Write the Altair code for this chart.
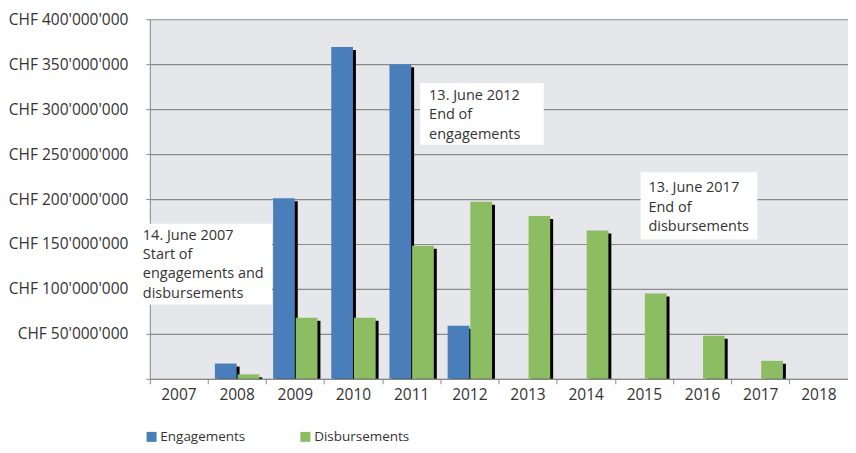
import altair as alt
import pandas as pd

# ---- data ----
years = [str(y) for y in range(2007, 2019)]
engagements = [0, 17e6, 201e6, 369e6, 350e6, 59e6, 0, 0, 0, 0, 0, 0]
disbursements = [0, 5e6, 68e6, 68e6, 148e6, 197e6, 181e6, 165e6, 95e6, 48e6, 20e6, 0]
series = ["Engagements", "Disbursements"]
colors = ["#4a7ebb", "#8cbd63"]
y_ticks = list(range(0, 400_000_001, 50_000_000))

ann_text = [
    "14. June 2007\nStart of\nengagements and\ndisbursements",
    "13. June 2012\nEnd of\nengagements",
    "13. June 2017\nEnd of\ndisbursements",
]
ann_x0 = [2006.30, 2011.145, 2014.935]
ann_x1 = [2008.60, 2013.27, 2016.94]
ann_y0 = [172.5e6, 329e6, 229.8e6]
ann_y1 = [82.8e6, 260.4e6, 155.0e6]
ann_tx = [2006.38, 2011.30, 2015.07]
ann_ty = [159.4e6, 314.9e6, 212.1e6]

FONT = "Open Sans"
TXT = "#333333"
GRID = "#8a8a8a"
Y_MAX = 400_000_000
PLOT_H = 360

rows = []
for yr, e, d in zip(years, engagements, disbursements):
    if e > 0:
        rows.append({"year": yr, "series": series[0], "value": e})
    if d > 0:
        rows.append({"year": yr, "series": series[1], "value": d})
df = pd.DataFrame(rows)

ann = pd.DataFrame({"x0": ann_x0, "x1": ann_x1, "y0": ann_y0, "y1": ann_y1,
                    "tx": ann_tx, "ty": ann_ty, "text": ann_text})

label_expr = ("datum.value == 0 ? '' : 'CHF ' + "
              "replace(format(datum.value, ','), regexp(',', 'g'), \"'\")")

y_axis = alt.Axis(title=None, values=y_ticks, labelExpr=label_expr,
                  grid=True, gridColor=GRID, gridWidth=1.2, domainColor=GRID,
                  tickColor=GRID, tickSize=4, labelPadding=18,
                  labelFont=FONT, labelFontSize=15.5, labelColor=TXT)
y_scale = alt.Scale(domain=[0, Y_MAX], nice=False)

x_enc = alt.X("year:N",
              scale=alt.Scale(domain=years, paddingInner=0, paddingOuter=0),
              axis=alt.Axis(title=None, bandPosition=0, labelAngle=0, tickSize=5,
                            labelPadding=4, domainColor=GRID, tickColor=GRID,
                            labelFont=FONT, labelFontSize=15.5, labelColor=TXT, grid=False))


def xo(align):
    return alt.XOffset("series:N",
                       scale=alt.Scale(domain=series, paddingInner=0.0435,
                                       paddingOuter=0.304, align=align))


shadow = alt.Chart(df).transform_calculate(
    sv=f"datum.value - {Y_MAX} * 3 / {PLOT_H}"
).mark_bar(color="black").encode(
    x=x_enc, xOffset=xo(0.714),
    y=alt.Y("sv:Q", scale=y_scale, axis=y_axis),
)
bars = alt.Chart(df).mark_bar().encode(
    x=x_enc, xOffset=xo(0.5),
    y=alt.Y("value:Q", scale=y_scale, axis=y_axis),
    color=alt.Color("series:N",
                    scale=alt.Scale(domain=series, range=colors),
                    legend=alt.Legend(title=None, orient="none", legendX=-5, legendY=411,
                                      direction="horizontal", symbolType="square",
                                      symbolSize=100, symbolStrokeWidth=0,
                                      labelFont=FONT, labelFontSize=13.5, labelColor=TXT,
                                      labelOffset=2, columnPadding=53))
)
bar_layer = alt.layer(shadow, bars).resolve_scale(xOffset="independent")

ax = alt.Scale(domain=[2006.5, 2018.5], nice=False, zero=False)
rects = alt.Chart(ann).mark_rect(color="white").encode(
    x=alt.X("x0:Q", scale=ax, axis=None), x2="x1",
    y=alt.Y("y0:Q", scale=y_scale, axis=y_axis), y2="y1")
texts = alt.Chart(ann).mark_text(align="left", baseline="middle", lineBreak="\n",
                                 lineHeight=19.5, font=FONT, fontSize=14.5, color=TXT).encode(
    x=alt.X("tx:Q", scale=ax, axis=None),
    y=alt.Y("ty:Q", scale=y_scale, axis=y_axis),
    text="text:N")

chart = alt.layer(bar_layer, alt.layer(rects, texts)).resolve_scale(
    x="independent"
).properties(
    width=699, height=PLOT_H,
    padding={"left": 0, "top": 4, "right": 0, "bottom": 0},
    background="white",
).configure_view(fill="#e6e7eb", stroke=None)

chart.save("out.html", embed_options={"renderer": "svg", "actions": False})
